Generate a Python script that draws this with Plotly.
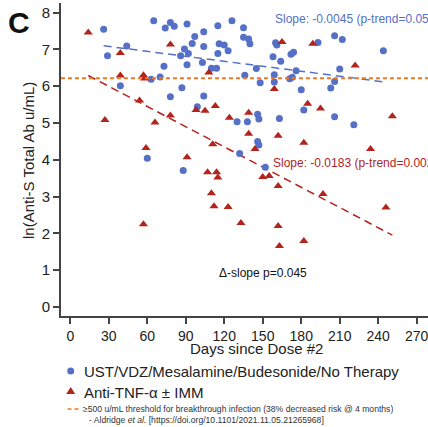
import math
import plotly.graph_objects as go

# ---------------- data ----------------
blue_days = [26, 29, 44, 39, 65, 74, 78, 81, 73, 70, 63, 78, 86, 89, 87, 60, 91, 97, 95, 92,
             91, 104, 104, 103, 110, 114, 115, 116, 120, 123, 115, 126, 135, 135, 139, 140,
             160, 161, 158, 164, 172, 174, 145, 136, 148, 159, 159, 176, 171, 173, 180, 104,
             99, 146, 147, 130, 138, 163, 182, 146, 147, 132, 88, 152, 193, 206, 212, 244,
             210, 206, 203, 206, 221]
blue_vals = [7.55, 6.83, 7.09, 6.01, 7.78, 7.58, 7.73, 7.63, 6.54, 6.25, 6.19, 5.71, 6.83,
             7.01, 5.96, 4.04, 7.69, 7.35, 7.16, 6.89, 6.58, 7.48, 7.08, 6.64, 6.49, 6.49,
             7.64, 7.15, 7.12, 6.96, 6.89, 7.78, 7.59, 7.33, 7.28, 7.15, 7.18, 7.12, 6.80,
             6.68, 6.87, 6.92, 6.48, 6.30, 6.09, 6.31, 6.11, 6.42, 6.20, 6.24, 5.90, 5.73,
             5.44, 5.24, 5.11, 5.03, 5.03, 5.12, 5.35, 4.50, 4.40, 4.17, 3.71, 3.80, 7.19,
             7.37, 7.27, 6.96, 6.47, 6.13, 5.95, 5.17, 4.95]

red_days = [14, 39, 78, 39, 57, 58, 54, 27, 66, 78, 59, 57, 108, 165, 159, 98, 105, 113, 124,
            139, 139, 111, 144, 162, 182, 91, 189, 222, 185, 195, 251, 234, 107, 114, 115, 110,
            112, 123, 133, 150, 155, 162, 162, 163, 182, 197, 246]
red_vals = [7.46, 6.90, 7.13, 6.29, 6.30, 6.21, 5.61, 5.08, 5.01, 5.20, 4.32, 2.25, 6.37, 7.20,
            5.92, 5.35, 5.33, 5.46, 5.14, 5.28, 4.71, 4.42, 4.29, 4.65, 4.46, 4.07, 7.15, 6.56,
            5.52, 5.39, 5.18, 4.29, 3.66, 3.66, 3.52, 3.09, 2.74, 2.72, 2.28, 3.53, 3.56, 3.29,
            2.20, 1.66, 1.79, 3.07, 2.70]

blue_slope, blue_intercept = -0.0045, 7.216
red_slope, red_intercept = -0.0183, 6.546
threshold = math.log(500)

x_ticks = [0, 30, 60, 90, 120, 150, 180, 210, 240, 270]
y_ticks = [0, 1, 2, 3, 4, 5, 6, 7, 8]

BLUE = "#5570c6"
RED = "#b3241d"
ORANGE = "#ec7a26"
FONT = "Arial, Liberation Sans, sans-serif"

W, H = 428, 427
L, R, T, B = 61, 0, 3, 111
PW, PH = W - L - R, H - T - B


def px(x, y):
    return (x - L) / PW, (H - B - y) / PH


fig = go.Figure()

# trend lines
bx = [min(blue_days), max(blue_days)]
rx = [min(red_days), max(red_days)]
fig.add_trace(go.Scatter(x=bx, y=[blue_intercept + blue_slope * d for d in bx], mode="lines",
                         line=dict(color=BLUE, width=1.5, dash="8px,5px"), hoverinfo="skip"))
fig.add_trace(go.Scatter(x=rx, y=[red_intercept + red_slope * d for d in rx], mode="lines",
                         line=dict(color=RED, width=1.5, dash="8px,5px"), hoverinfo="skip"))

fig.add_trace(go.Scatter(x=blue_days, y=blue_vals, mode="markers",
                         name="UST/VDZ/Mesalamine/Budesonide/No Therapy",
                         marker=dict(symbol="circle", size=7, color=BLUE, line=dict(width=0))))
fig.add_trace(go.Scatter(x=red_days, y=red_vals, mode="markers", name="Anti-TNF-α ± IMM",
                         marker=dict(symbol="triangle-up", size=8, color=RED, line=dict(width=0))))

# threshold line
fig.add_trace(go.Scatter(x=[-7.3, 290], y=[threshold, threshold], mode="lines",
                         line=dict(color=ORANGE, width=2, dash="4px,3px"), hoverinfo="skip",
                         cliponaxis=True))

ann = []
ann.append(dict(x=158, y=7.83, xref="x", yref="y", text="Slope: -0.0045 (p-trend=0.055)",
                showarrow=False, xanchor="left", yanchor="middle",
                font=dict(size=12, color=BLUE, family=FONT)))
ann.append(dict(x=156.4, y=3.9, xref="x", yref="y", text="Slope: -0.0183 (p-trend=0.002)",
                showarrow=False, xanchor="left", yanchor="middle",
                font=dict(size=12, color=RED, family=FONT)))
ann.append(dict(x=114, y=0.92, xref="x", yref="y", text="Δ-slope p=0.045",
                showarrow=False, xanchor="left", yanchor="middle",
                font=dict(size=12, color="#111", family=FONT)))

# panel letter
x0, y0 = px(6, 22)
ann.append(dict(x=x0, y=y0, xref="paper", yref="paper", text="<b>C</b>", showarrow=False,
                xanchor="left", yanchor="middle", font=dict(size=30, color="#111", family=FONT)))
# y title
x0, y0 = px(28, 161)
ann.append(dict(x=x0, y=y0, xref="paper", yref="paper", text="ln(Anti-S Total Ab u/mL)",
                showarrow=False, textangle=-90, xanchor="center", yanchor="middle",
                font=dict(size=15, color="#222", family=FONT)))
# x title
x0, y0 = px(256, 348.5)
ann.append(dict(x=x0, y=y0, xref="paper", yref="paper", text="Days since Dose #2",
                showarrow=False, xanchor="center", yanchor="middle",
                font=dict(size=15, color="#222", family=FONT)))

# legend texts
x0, y0 = px(82, 371.5)
ann.append(dict(x=x0, y=y0, xref="paper", yref="paper",
                text="UST/VDZ/Mesalamine/Budesonide/No Therapy", showarrow=False,
                xanchor="left", yanchor="middle", font=dict(size=15, color="#222", family=FONT)))
x0, y0 = px(82, 392)
ann.append(dict(x=x0, y=y0, xref="paper", yref="paper", text="Anti-TNF-α ± IMM",
                showarrow=False, xanchor="left", yanchor="middle",
                font=dict(size=15, color="#222", family=FONT)))
x0, y0 = px(80.5, 409)
ann.append(dict(x=x0, y=y0, xref="paper", yref="paper",
                text="≥500 u/mL threshold for breakthrough infection (38% decreased risk @ 4 months)",
                showarrow=False, xanchor="left", yanchor="middle",
                font=dict(size=8.6, color="#333", family=FONT)))
x0, y0 = px(87, 420)
ann.append(dict(x=x0, y=y0, xref="paper", yref="paper",
                text="- Aldridge <i>et al.</i> [https://doi.org/10.1101/2021.11.05.21265968]",
                showarrow=False, xanchor="left", yanchor="middle",
                font=dict(size=8.6, color="#333", family=FONT)))

shapes = []
# legend circle
cx, cy = 70.7, 371
a0, b0 = px(cx - 3.5, cy - 3.5)
a1, b1 = px(cx + 3.5, cy + 3.5)
shapes.append(dict(type="circle", xref="paper", yref="paper", x0=a0, x1=a1, y0=b0, y1=b1,
                   fillcolor=BLUE, line=dict(width=0)))
# legend triangle
tx, ty = 70.7, 391
p1 = px(tx - 4.5, ty + 3)
p2 = px(tx + 4.5, ty + 3)
p3 = px(tx, ty - 4)
shapes.append(dict(type="path", xref="paper", yref="paper",
                   path=f"M {p1[0]},{p1[1]} L {p2[0]},{p2[1]} L {p3[0]},{p3[1]} Z",
                   fillcolor=RED, line=dict(width=0)))
# legend dashed line
d0 = px(67.5, 409)
d1 = px(79, 409)
shapes.append(dict(type="line", xref="paper", yref="paper", x0=d0[0], x1=d1[0], y0=d0[1],
                   y1=d1[1], line=dict(color=ORANGE, width=1.5, dash="4px,3px")))

fig.update_layout(
    width=W, height=H, margin=dict(l=L, r=R, t=T, b=B),
    paper_bgcolor="white", plot_bgcolor="white", showlegend=False,
    annotations=ann, shapes=shapes,
    font=dict(family=FONT, color="#222"),
)
fig.update_xaxes(range=[-7.25, 278.8], tickvals=x_ticks, ticktext=[str(t) for t in x_ticks],
                 showgrid=False, zeroline=False, showline=True, linecolor="#444", linewidth=2,
                 ticks="outside", ticklen=6, tickwidth=1.5, tickcolor="#444",
                 ticklabeloverflow="allow",
                 tickfont=dict(size=14, color="#222", family=FONT))
fig.update_yaxes(range=[-0.245, 8.26], tickvals=y_ticks, ticktext=[str(t) for t in y_ticks],
                 showgrid=False, zeroline=False, showline=True, linecolor="#444", linewidth=2,
                 ticks="outside", ticklen=6, tickwidth=1.5, tickcolor="#444",
                 tickfont=dict(size=15, color="#222", family=FONT))

fig.write_html("out.html", config={"displayModeBar": False},
               post_script="document.body.style.margin='0px';document.body.style.overflow='hidden';")
